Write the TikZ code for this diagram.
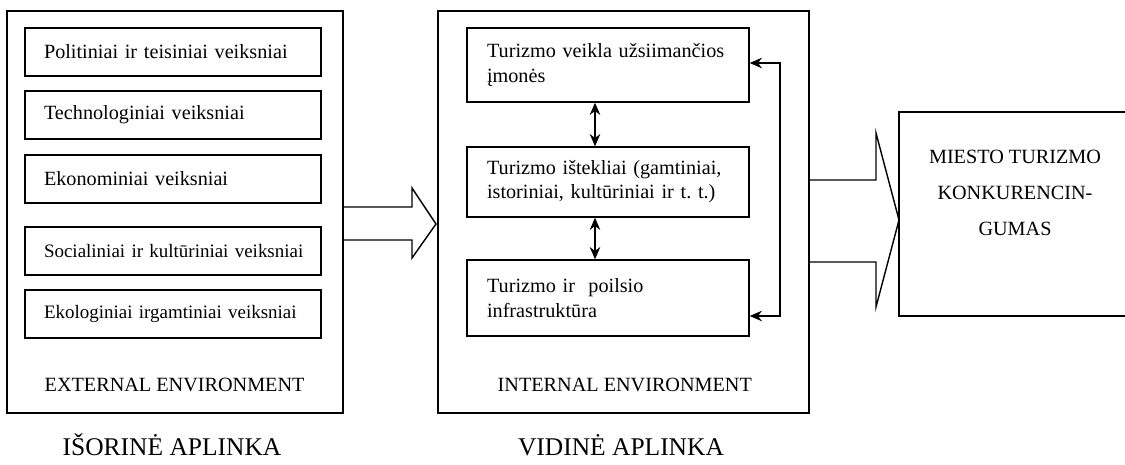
\documentclass[tikz,border=0pt]{standalone}
\usepackage{fontspec}
\setmainfont{Liberation Serif}
\usetikzlibrary{arrows.meta}
\begin{document}
\begin{tikzpicture}[x=0.02cm, y=-0.02cm, line width=0.8pt,
    every node/.style={font=\fontsize{11.5}{13.8}\selectfont},
    factor/.style={draw, text width=5.92cm, inner xsep=0pt, minimum height=0.96cm, align=left,
      execute at begin node={\hspace*{0.38cm}}},
    narrow/.style={font=\fontsize{10.8}{13}\selectfont},
    resource/.style={draw, text width=4.84cm, inner xsep=0.4cm, align=left},
    envlabel/.style={anchor=west, inner sep=0pt},
    title/.style={font=\fontsize{14.5}{17}\selectfont},
    link/.style={{Stealth[length=7pt, width=6pt]}-{Stealth[length=7pt, width=6pt]}},
    bigarrow/.style={draw}]
    \useasboundingbox (0,0) rectangle (1125,465);
    \clip (0,0) rectangle (1125,465);
    % external environment
    \node[draw, minimum width=6.72cm, minimum height=8.04cm] (ext) at (175,212) {};
    \node[factor] (pol) at (173,52) {Politiniai ir teisiniai veiksniai};
    \node[factor] (tech) at (173,115) {Technologiniai veiksniai};
    \node[factor] (econ) at (173,179) {Ekonominiai veiksniai};
    \node[factor, narrow] (soc) at (173,251) {Socialiniai ir kultūriniai veiksniai};
    \node[factor, narrow] (nat) at (173,314) {Ekologiniai irgamtiniai veiksniai};
    \node[envlabel] (extlbl) at (44,385) {EXTERNAL ENVIRONMENT};
    \node[title] (extttl) at (172,445) {IŠORINĖ APLINKA};
    % internal environment
    \node[draw, minimum width=7.42cm, minimum height=8.04cm] (int) at (623.5,212) {};
    \node[resource, minimum height=1.48cm] (firms) at (608,65) {Turizmo veikla užsiimančios\\įmonės};
    \node[resource, minimum height=1.40cm] (res) at (608,182) {Turizmo ištekliai (gamtiniai,\\istoriniai, kultūriniai ir t.~t.)};
    \node[resource, minimum height=1.52cm] (infra) at (608,298) {Turizmo ir\ \ poilsio\\infrastruktūra};
    \node[envlabel] (intlbl) at (497,385) {INTERNAL ENVIRONMENT};
    \node[title] (intttl) at (621,445) {VIDINĖ APLINKA};
    % result
    \node[draw, minimum width=4.72cm, minimum height=4.08cm] (goal) at (1017,214) {};
    \node[align=center, font=\fontsize{11.5}{20.3}\selectfont] (goaltxt) at (1015,193) {MIESTO TURIZMO\\KONKURENCIN-\\GUMAS};
    % links
    \coordinate (ax) at (595,0);
    \coordinate (fbtop) at (780,63);
    \coordinate (fbbot) at (780,316);
    \draw[link] (firms.south -| ax) -- (res.north -| ax);
    \draw[link] (res.south -| ax) -- (infra.north -| ax);
    \draw[link] (firms.east |- fbtop) -- (fbtop) -- (fbbot) -- (infra.east |- fbbot);
    \draw[bigarrow] (343,207) -- (412,207) -- (412,188) -- (436,224) -- (412,258) -- (412,240) -- (343,240);
    \draw[bigarrow] (809,180) -- (876,180) -- (876,133) -- (899,220) -- (876,307) -- (876,262) -- (809,262);
\end{tikzpicture}
\end{document}
